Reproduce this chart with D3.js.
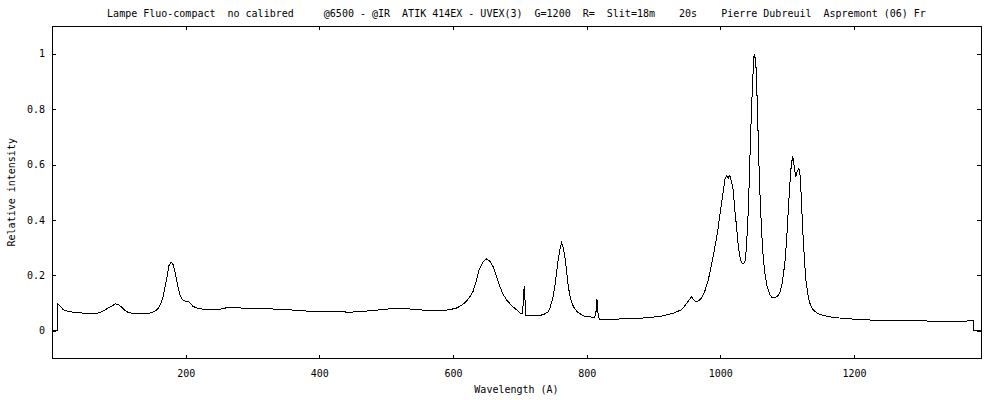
<!DOCTYPE html>
<html>
<head>
<meta charset="utf-8">
<script src="https://cdn.jsdelivr.net/npm/d3@7/dist/d3.min.js"></script>
<style>
  html, body { margin: 0; padding: 0; background: #fff; }
  svg { display: block; }
  text { font-family: "DejaVu Sans Mono", monospace; font-size: 10px; fill: #000; white-space: pre; }
</style>
</head>
<body>
<svg id="chart" width="1000" height="400"></svg>
<script>
// ---- data ----
const titleText = "Lampe Fluo-compact  no calibred     @6500 - @IR  ATIK 414EX - UVEX(3)  G=1200  R=  Slit=18m    20s    Pierre Dubreuil  Aspremont (06) Fr";
const xLabel = "Wavelength (A)";
const yLabel = "Relative intensity";
const xTicks = [200, 400, 600, 800, 1000, 1200];
const yTicks = [0, 0.2, 0.4, 0.6, 0.8, 1];

const wavelength = [
  0, 7.9, 8, 12, 17, 24, 32, 45, 62, 72, 82, 90, 95, 100, 104, 110, 114, 127, 147, 155,
  159, 163, 166.5, 170, 172.5, 175, 178, 181, 184, 187, 189, 192, 195.5, 200, 204, 208, 211, 218, 226, 246,
  256, 266, 280, 296, 320, 346, 371, 400, 420, 446, 480, 500, 516, 530, 545, 580, 595, 605, 613, 620,
  625, 630, 635, 639, 645, 650, 655, 660, 665, 670, 675, 680, 688, 695, 702, 704, 705.5, 706.5, 707.5, 709,
  715, 725, 735, 742, 745, 749, 752.4, 755, 757.4, 760, 762.4, 765, 767.4, 770, 772.4, 776, 780, 786, 795, 805,
  812, 814, 815.3, 816.5, 818.7, 830, 865, 880, 910, 920, 930, 942, 950, 955, 957, 960, 964, 968, 972, 977,
  982, 987, 992, 996, 999, 1003, 1006.7, 1009.3, 1012, 1014.2, 1016, 1019.2, 1021.5, 1024.2, 1027, 1029.2, 1031, 1033, 1035.5, 1037.6,
  1039.5, 1041.6, 1043.5, 1045.2, 1047.5, 1049.5, 1050.6, 1052, 1053.1, 1054.5, 1056.6, 1058.5, 1061.6, 1064, 1066.6, 1070, 1074, 1077.5, 1080.5, 1085,
  1089, 1092.5, 1096.5, 1099, 1101.4, 1103.5, 1105.5, 1108, 1109.5, 1110.4, 1112.9, 1115, 1117.4, 1118.5, 1119.9, 1122, 1123.8, 1126, 1127.9, 1131,
  1133.9, 1137, 1141.3, 1147, 1153.8, 1165, 1178.8, 1200, 1238.6, 1260, 1288.4, 1320, 1348.2, 1365, 1378, 1379.2, 1379.4, 1390
];
const intensity = [
  0, 0, 0.100, 0.090, 0.076, 0.070, 0.067, 0.064, 0.061, 0.066, 0.079, 0.090, 0.097, 0.093, 0.086, 0.072, 0.066, 0.061, 0.064, 0.072,
  0.082, 0.100, 0.124, 0.170, 0.200, 0.235, 0.248, 0.240, 0.214, 0.175, 0.154, 0.125, 0.112, 0.107, 0.106, 0.097, 0.088, 0.081, 0.078, 0.076,
  0.080, 0.086, 0.083, 0.079, 0.079, 0.078, 0.072, 0.070, 0.070, 0.067, 0.073, 0.078, 0.082, 0.080, 0.076, 0.072, 0.076, 0.082, 0.092, 0.106,
  0.122, 0.142, 0.180, 0.220, 0.250, 0.259, 0.252, 0.232, 0.198, 0.160, 0.132, 0.112, 0.090, 0.076, 0.061, 0.062, 0.120, 0.160, 0.120, 0.056,
  0.054, 0.054, 0.058, 0.068, 0.082, 0.115, 0.160, 0.210, 0.256, 0.295, 0.317, 0.298, 0.268, 0.215, 0.160, 0.115, 0.088, 0.068, 0.054, 0.050,
  0.049, 0.070, 0.116, 0.070, 0.042, 0.042, 0.043, 0.045, 0.052, 0.058, 0.064, 0.076, 0.100, 0.117, 0.122, 0.112, 0.104, 0.110, 0.118, 0.145,
  0.184, 0.240, 0.304, 0.360, 0.413, 0.480, 0.545, 0.560, 0.552, 0.562, 0.545, 0.509, 0.440, 0.377, 0.300, 0.268, 0.250, 0.242, 0.244, 0.256,
  0.320, 0.425, 0.560, 0.700, 0.850, 0.960, 1.000, 0.985, 0.966, 0.880, 0.701, 0.540, 0.365, 0.270, 0.208, 0.160, 0.130, 0.120, 0.118, 0.124,
  0.136, 0.170, 0.244, 0.320, 0.425, 0.510, 0.581, 0.629, 0.615, 0.593, 0.557, 0.575, 0.587, 0.580, 0.545, 0.430, 0.340, 0.250, 0.184, 0.130,
  0.100, 0.082, 0.070, 0.061, 0.055, 0.050, 0.046, 0.042, 0.037, 0.037, 0.036, 0.035, 0.034, 0.035, 0.036, 0.036, 0, 0
];

// ---- layout ----
const L = 52, R = 981, T = 26, B = 358.5;
const svg = d3.select("#chart");

const x = d3.scaleLinear().domain([0, 1390]).range([L, R]);
const y = d3.scaleLinear().domain([-0.1, 1.1]).range([B, T]);

const yFmt = d => String(+d.toFixed(1));

// bottom axis (ticks inward, labels below)
const gx = svg.append("g").attr("transform", `translate(0,${B})`)
  .call(d3.axisBottom(x).tickValues(xTicks).tickSize(-4).tickPadding(11).tickFormat(d3.format("d")));
// top mirror
const gxt = svg.append("g").attr("transform", `translate(0,${T})`)
  .call(d3.axisTop(x).tickValues(xTicks).tickSize(-4).tickFormat(""));
// left axis
const gy = svg.append("g").attr("transform", `translate(${L},0)`)
  .call(d3.axisLeft(y).tickValues(yTicks).tickSize(-4).tickPadding(7).tickFormat(yFmt));
// right mirror
const gyr = svg.append("g").attr("transform", `translate(${R},0)`)
  .call(d3.axisRight(y).tickValues(yTicks).tickSize(-4).tickFormat(""));

[gx, gxt, gy, gyr].forEach(g => {
  g.select(".domain").remove();
  g.selectAll("line").attr("stroke", "#000").attr("shape-rendering", "crispEdges");
  g.selectAll("text").attr("font-family", null).attr("font-size", null).attr("fill", "#000");
  g.attr("font-family", null).attr("font-size", null);
});

// frame
svg.append("rect")
  .attr("x", L).attr("y", T).attr("width", R - L).attr("height", B - T)
  .attr("fill", "none").attr("stroke", "#000").attr("stroke-width", 1)
  .attr("shape-rendering", "crispEdges");

// spectrum
const pts = wavelength.map((w, i) => [w, intensity[i]]);
svg.append("path")
  .datum(pts)
  .attr("fill", "none")
  .attr("stroke", "#000")
  .attr("stroke-width", 1)
  .attr("shape-rendering", "crispEdges")
  .attr("d", d3.line().x(d => x(d[0])).y(d => y(d[1])));

// title
svg.append("text")
  .attr("x", (L + R) / 2).attr("y", 17)
  .attr("text-anchor", "middle")
  .text(titleText);

// x label
svg.append("text")
  .attr("x", (L + R) / 2).attr("y", 393)
  .attr("text-anchor", "middle")
  .text(xLabel);

// y label
svg.append("text")
  .attr("transform", `translate(15,${(T + B) / 2}) rotate(-90)`)
  .attr("text-anchor", "middle")
  .text(yLabel);
</script>
</body>
</html>
